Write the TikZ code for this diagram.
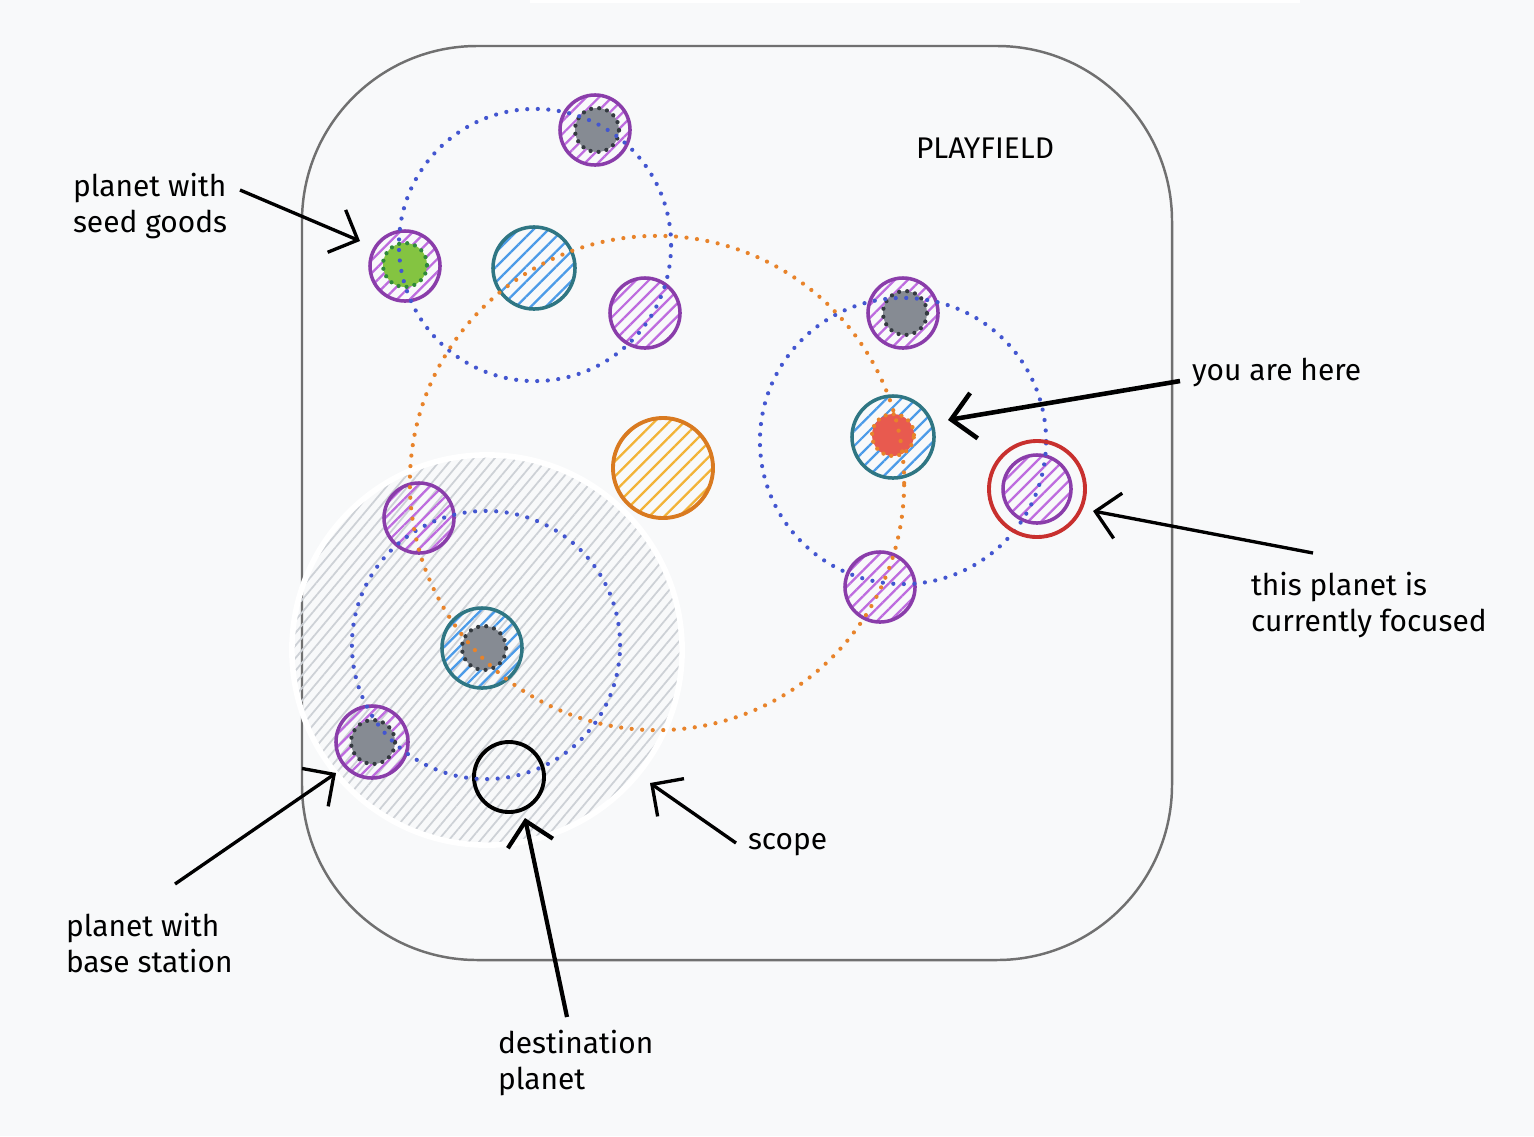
\documentclass[tikz,border=0pt]{standalone}
\usepackage{fontspec}
\setmainfont{Fira Sans}
\usetikzlibrary{arrows.meta,patterns.meta}
\definecolor{bg}{HTML}{F8F9FA}
\definecolor{frame}{HTML}{707070}
\definecolor{purpleline}{HTML}{8A3DAA}
\definecolor{purplehatch}{HTML}{BE6CDF}
\definecolor{tealline}{HTML}{2F7683}
\definecolor{bluehatch}{HTML}{4C9BE8}
\definecolor{coregray}{HTML}{868B93}
\definecolor{coredark}{HTML}{343A40}
\definecolor{coregreen}{HTML}{84C441}
\definecolor{coregreendk}{HTML}{2F8A3A}
\definecolor{corered}{HTML}{E85A4F}
\definecolor{orbitblue}{HTML}{4356D0}
\definecolor{orbitorange}{HTML}{E8832A}
\definecolor{sunline}{HTML}{D97A20}
\definecolor{sunhatch}{HTML}{F2B338}
\definecolor{focusred}{HTML}{C8302E}
\definecolor{scopehatch}{HTML}{CDD1D6}
\begin{document}
\begin{tikzpicture}[x=0.01cm,y=-0.01cm,
  every node/.style={inner sep=0pt, outer sep=0pt},
  purpleP/.style={circle, draw=purpleline, line width=1pt,
    pattern={Lines[angle=45,distance=2.6pt,line width=0.65pt]}, pattern color=purplehatch,
    minimum size=0.70cm},
  tealP/.style={circle, draw=tealline, line width=1pt,
    pattern={Lines[angle=45,distance=3pt,line width=0.65pt]}, pattern color=bluehatch,
    minimum size=0.82cm},
  core/.style={circle, minimum size=0.44cm, line width=1.2pt, line cap=round,
    dash pattern=on 0pt off 2.3pt},
  graycore/.style={core, fill=coregray, draw=coredark},
  orbit/.style={circle, draw=orbitblue, line width=1.2pt, line cap=round,
    dash pattern=on 0pt off 3pt},
  bigorbit/.style={circle, draw=orbitorange, line width=1.2pt, line cap=round,
    dash pattern=on 0pt off 3pt},
  lab/.style={anchor=west, align=left, font=\fontsize{8.5}{10}\selectfont},
  arr/.style={-{Straight Barb[length=2.3mm,width=4.6mm]}, line width=0.95pt, black},
]
% background and frame
\fill[bg] (0,0) rectangle (1534,1136);
\fill[white] (530,0) rectangle (1300,3);
\draw[frame, line width=0.7pt, rounded corners=1.75cm] (302,46) rectangle (1172,960);
\node[lab, anchor=center] (title) at (985,148) {PLAYFIELD};

% scope
\node[circle, minimum size=3.9cm, draw=white, line width=1.6pt,
  pattern={Lines[angle=50,distance=2.3pt,line width=0.5pt]}, pattern color=scopehatch] (scope) at (487,650) {};

% sun
\node[circle, minimum size=1.0cm, draw=sunline, line width=1.1pt,
  pattern={Lines[angle=45,distance=3pt,line width=0.65pt]}, pattern color=sunhatch] (sun) at (663,468) {};

% purple planets
\node[purpleP] (p1) at (595,130) {};
\node[purpleP] (p2) at (405,266) {};
\node[purpleP] (p3) at (645,313) {};
\node[purpleP] (p4) at (903,313) {};
\node[purpleP] (p5) at (419,518) {};
\node[purpleP] (p6) at (880,587) {};
\node[purpleP, minimum size=0.72cm] (p7) at (372,742) {};
\node[purpleP, minimum size=0.68cm] (p8) at (1037,489) {};
% teal planets
\node[tealP] (t1) at (534,268) {};
\node[tealP] (t2) at (893,437) {};
\node[tealP, minimum size=0.80cm] (t3) at (482,648) {};
% cores
\node[graycore] (c1) at (597,130) {};
\node[core, fill=coregreen, draw=coregreendk] (c2) at (405,265) {};
\node[graycore] (c4) at (905,313) {};
\node[core, fill=corered, draw=orbitorange, minimum size=0.42cm] (c5) at (893,435) {};
\node[graycore] (c6) at (484,648) {};
\node[graycore] (c7) at (373,742) {};
% destination
\node[circle, draw=black, line width=1.1pt, minimum size=0.70cm] (dest) at (509,777) {};

% orbits
\node[orbit, minimum size=2.72cm] (orbA) at (535,245) {};
\node[orbit, minimum size=2.86cm] (orbB) at (903,441) {};
\node[orbit, minimum size=2.68cm] (orbC) at (486,645) {};
\node[bigorbit, minimum size=4.94cm] (orbS) at (657,483) {};

% focus ring
\node[circle, draw=focusred, line width=1.1pt, minimum size=0.96cm] (focus) at (1037,489) {};

% labels
\node[lab] (l1) at (73,206) {planet with\\seed goods};
\node[lab] (l2) at (1192,372) {you are here};
\node[lab] (l3) at (1251,605) {this planet is\\currently focused};
\node[lab] (l4) at (748,845) {scope};
\node[lab] (l5) at (66,943) {planet with\\base station};
\node[lab] (l6) at (498,1063) {destination\\planet};

% arrows
\coordinate (a1s) at (240,190); \coordinate (a1e) at (360,241);
\coordinate (a2s) at (1180,381); \coordinate (a2e) at (948,420);
\coordinate (a3s) at (1313,553); \coordinate (a3e) at (1093,511);
\coordinate (a4s) at (736,843); \coordinate (a4e) at (650,783);
\coordinate (a5s) at (175,884); \coordinate (a5e) at (336,773);
\coordinate (a6s) at (567,1017); \coordinate (a6e) at (525,818);
\draw[arr] (a1s) -- (a1e);
\draw[arr, line width=1.3pt] (a2s) -- (a2e);
\draw[arr] (a3s) -- (a3e);
\draw[arr] (a4s) -- (a4e);
\draw[arr] (a5s) -- (a5e);
\draw[arr, line width=1.2pt] (a6s) -- (a6e);
\end{tikzpicture}
\end{document}
